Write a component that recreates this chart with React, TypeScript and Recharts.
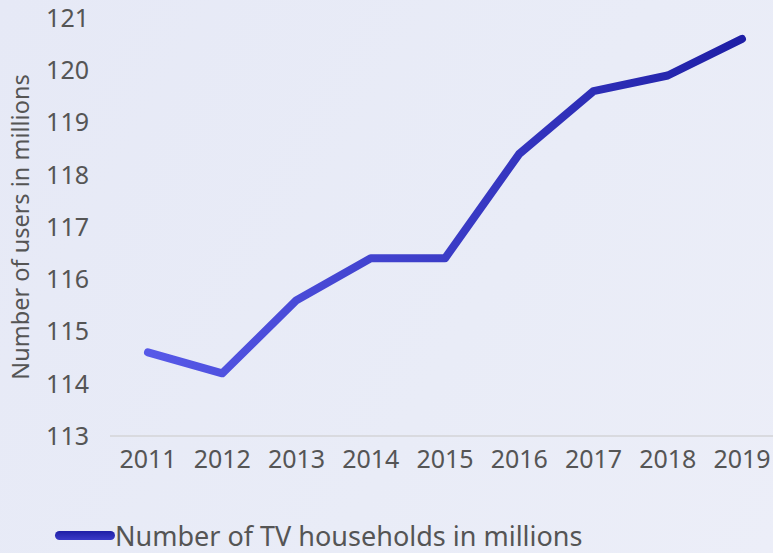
import React from 'react';
import { LineChart, Line, XAxis, YAxis, CartesianGrid, Label } from 'recharts';

const years = ['2011', '2012', '2013', '2014', '2015', '2016', '2017', '2018', '2019'];
const households = [114.6, 114.2, 115.6, 116.4, 116.4, 118.4, 119.6, 119.9, 120.6];
const yTicks = [113, 114, 115, 116, 117, 118, 119, 120, 121];

const data = years.map((year, i) => ({ year, value: households[i] }));

const FONT = '"Noto Sans", "Open Sans", sans-serif';

const YLabel = ({ viewBox }: any) => {
    const cy = viewBox.y + viewBox.height / 2;
    return (
        <text
            x={29}
            y={cy}
            transform={`rotate(-90, 29, ${cy})`}
            textAnchor="middle"
            fill="#555"
            fontSize={23.5}
            fontFamily={FONT}
        >
            Number of users in millions
        </text>
    );
};

const App = () => {
    return (
        <div
            style={{
                position: 'absolute',
                left: 0,
                top: 0,
                width: 773,
                height: 553,
                background: 'linear-gradient(120deg, #e6e9f6 0%, #e9ecf7 60%, #eceef8 100%)',
                fontFamily: FONT,
                overflow: 'hidden',
            }}
        >
            <LineChart
                width={773}
                height={553}
                data={data}
                margin={{ top: 18, right: 0, left: 0, bottom: 87 }}
            >
                <defs>
                    <linearGradient id="lineGrad" x1="0" y1="0" x2="1" y2="0">
                        <stop offset="0%" stopColor="#5759e8" />
                        <stop offset="100%" stopColor="#1f1fa6" />
                    </linearGradient>
                </defs>
                <CartesianGrid vertical={false} horizontal={false} />
                <XAxis
                    dataKey="year"
                    axisLine={{ stroke: '#d9dadf', strokeWidth: 2 }}
                    tickLine={false}
                    tickMargin={8}
                    padding={{ left: 38, right: 31 }}
                    tick={{ fill: '#555', fontSize: 25, fontFamily: FONT }}
                    interval={0}
                />
                <YAxis
                    width={110}
                    domain={[113, 121]}
                    ticks={yTicks}
                    interval={0}
                    axisLine={false}
                    tickLine={false}
                    tickMargin={15}
                    tick={{ fill: '#555', fontSize: 25, fontFamily: FONT }}
                >
                    <Label content={<YLabel />} />
                </YAxis>
                <Line
                    type="linear"
                    dataKey="value"
                    stroke="url(#lineGrad)"
                    strokeWidth={8}
                    strokeLinecap="round"
                    strokeLinejoin="round"
                    dot={false}
                    activeDot={false}
                    isAnimationActive={false}
                />
            </LineChart>
            <div
                style={{
                    position: 'absolute',
                    left: 55,
                    top: 522,
                    display: 'flex',
                    alignItems: 'center',
                    color: '#555',
                    fontSize: 27,
                    lineHeight: '27px',
                }}
            >
                <span
                    style={{
                        display: 'inline-block',
                        width: 60,
                        height: 9,
                        borderRadius: 5,
                        background: 'linear-gradient(180deg, #1f1fa6 0%, #3b3bc8 100%)',
                    }}
                />
                <span>Number of TV households in millions</span>
            </div>
        </div>
    );
};

export default App;
